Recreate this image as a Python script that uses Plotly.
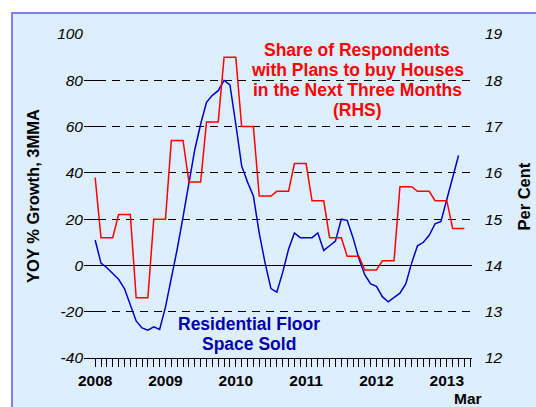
import plotly.graph_objects as go

# ---- data ----
# months since Jan 2008
floor_months = list(range(0, 63))
floor_space_yoy = [11, 1, -1, -3.5, -6, -10, -17, -24, -27, -28, -26.5, -27.7,
                   -18, -6, 7, 21, 36, 50, 61, 70.5, 73.5, 75.5, 80, 78,
                   61, 43, 36, 30, 14, 1, -10, -11.5, -3, 7, 14, 12,
                   12, 12, 14, 6.5, 8.5, 10.5, 20, 19.5, 12, 3, -4, -8,
                   -9, -13.5, -15.7, -14, -12, -8, 1, 8.5, 10, 13, 18, 19,
                   29, 38, 47.5]

plan_months = list(range(0, 64))
plan_share = [15.9,
              14.6, 14.6, 14.6, 15.1, 15.1, 15.1, 13.3, 13.3, 13.3, 15.0, 15.0, 15.0,
              16.7, 16.7, 16.7, 15.8, 15.8, 15.8, 17.1, 17.1, 17.1, 18.5, 18.5, 18.5,
              17.0, 17.0, 17.0, 15.5, 15.5, 15.5, 15.6, 15.6, 15.6, 16.2, 16.2, 16.2,
              15.4, 15.4, 15.4, 14.6, 14.6, 14.6, 14.2, 14.2, 14.2, 13.9, 13.9, 13.9,
              14.1, 14.1, 14.1, 15.7, 15.7, 15.7, 15.6, 15.6, 15.6, 15.4, 15.4, 15.4,
              14.8, 14.8, 14.8]

tick_months = list(range(0, 65))
year_labels = {0: "2008", 12: "2009", 24: "2010", 36: "2011", 48: "2012", 60: "2013"}
tick_text = [year_labels.get(m, "") for m in tick_months]

left_ticks = [-40, -20, 0, 20, 40, 60, 80, 100]
left_labels = ["-40", "-20", "0", "20", "40", "60", "80", "100"]
right_ticks = [12, 13, 14, 15, 16, 17, 18, 19]
right_labels = ["12", "13", "14", "15", "16", "17", "18", "19"]

FONT = "Liberation Sans, Arial, sans-serif"
BG = "#DDEEFF"

fig = go.Figure()
fig.add_trace(go.Scatter(x=plan_months, y=plan_share, mode="lines", yaxis="y2",
                         line=dict(color="#FF0000", width=1.5), showlegend=False))
fig.add_trace(go.Scatter(x=floor_months, y=floor_space_yoy, mode="lines",
                         line=dict(color="#0000CC", width=1.5), showlegend=False))

fig.update_layout(
    width=536, height=407,
    margin=dict(l=84, r=64, t=34, b=49),
    paper_bgcolor="white",
    plot_bgcolor="rgba(0,0,0,0)",
    font=dict(family=FONT, color="black"),
    xaxis=dict(range=[-1.9, 64.3], tickmode="array", tickvals=tick_months, ticktext=tick_text,
               ticks="outside", ticklen=8, tickcolor="black", tickwidth=1,
               showline=True, linecolor="black", linewidth=1, showgrid=False, zeroline=False,
               automargin=False,
               tickfont=dict(size=15.5, weight="bold", family=FONT)),
    yaxis=dict(range=[-40, 100], tickmode="array", tickvals=left_ticks,
               ticktext=["<i>%s</i>" % s for s in left_labels],
               ticks="inside", ticklen=16, tickcolor="black", tickwidth=1,
               showgrid=True, gridcolor="black", gridwidth=1, griddash="8px,6px",
               zeroline=True, zerolinecolor="black", zerolinewidth=1,
               showline=False, automargin=False,
               tickfont=dict(size=15.5, family=FONT)),
    yaxis2=dict(range=[12, 19], tickmode="array", tickvals=right_ticks,
                ticktext=["<i>%s</i>" % s for s in right_labels], overlaying="y",
                side="right", showgrid=False, zeroline=False, showline=False,
                ticks="", ticklabelstandoff=12, automargin=False,
                tickfont=dict(size=15.5, family=FONT)),
)

W = 388.0
H = 324.0
def px(x):
    return (x - 84) / W
def py(y):
    return (358 - y) / H

fig.add_shape(type="rect", xref="paper", yref="paper", layer="below",
              x0=px(12), x1=px(545), y0=py(415), y1=py(13),
              fillcolor=BG, line=dict(color="#7F7FFF", width=2))

red_lines = ["Share of Respondents", "with Plans to buy Houses",
             "in the Next Three Months", "(RHS)"]
for i, t in enumerate(red_lines):
    fig.add_annotation(text=t, xref="paper", yref="paper", x=px(357), y=py(50 + 20 * i),
                       showarrow=False, xanchor="center", yanchor="middle",
                       font=dict(size=17.5, color="#FF0000", weight="bold", family=FONT))

blue_lines = ["Residential Floor", "Space Sold"]
for i, t in enumerate(blue_lines):
    fig.add_annotation(text=t, xref="paper", yref="paper", x=px(249), y=py(324 + 20 * i),
                       showarrow=False, xanchor="center", yanchor="middle",
                       font=dict(size=17.5, color="#0000AA", weight="bold", family=FONT))

fig.add_annotation(text="YOY % Growth, 3MMA", xref="paper", yref="paper", x=px(33), y=py(196),
                   textangle=-90, showarrow=False, xanchor="center", yanchor="middle",
                   font=dict(size=16.5, weight="bold", family=FONT))
fig.add_annotation(text="Per Cent", xref="paper", yref="paper", x=px(523), y=py(196.5),
                   textangle=-90, showarrow=False, xanchor="center", yanchor="middle",
                   font=dict(size=16.5, weight="bold", family=FONT))
fig.add_annotation(text="Mar", xref="paper", yref="paper", x=px(468), y=py(398),
                   showarrow=False, xanchor="center", yanchor="middle",
                   font=dict(size=15.5, weight="bold", family=FONT))

fig.write_html("out.html", config={"displayModeBar": False},
               post_script="document.body.style.margin='0';document.body.style.overflow='hidden';")
